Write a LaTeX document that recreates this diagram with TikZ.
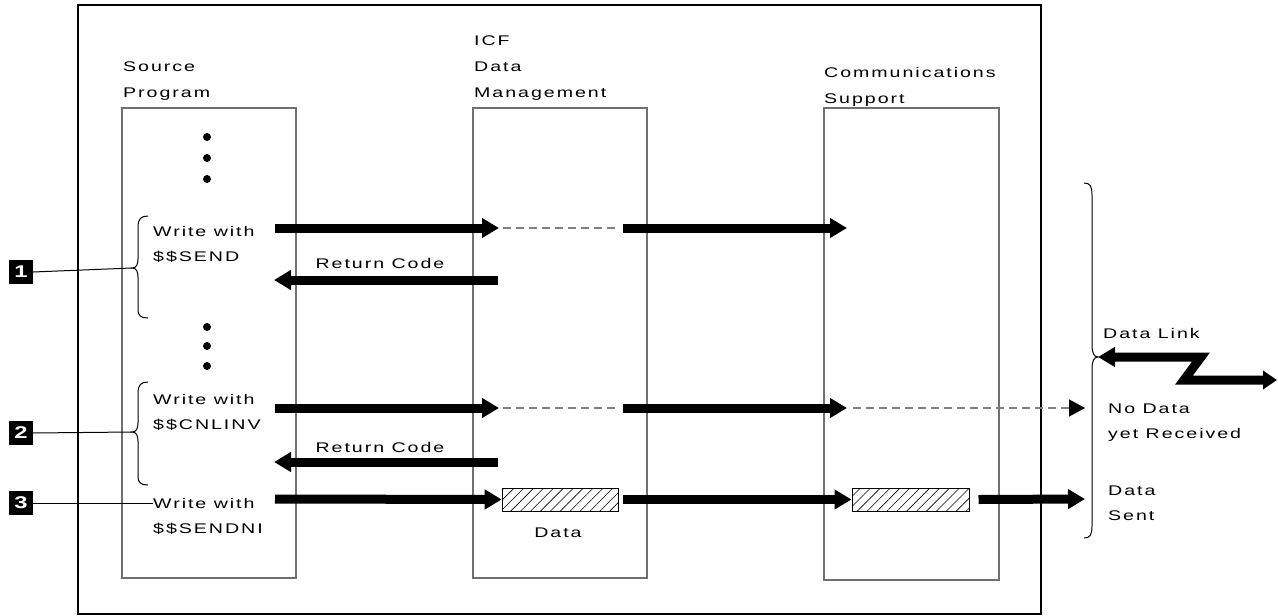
\documentclass[tikz,border=0pt]{standalone}
\usepackage{fontspec}
\setmainfont{Liberation Sans}[FakeStretch=1.4,LetterSpace=14]
\usetikzlibrary{arrows.meta,patterns.meta}
\definecolor{boxgray}{HTML}{707070}
\definecolor{dashgray}{HTML}{808080}
\begin{document}
\begin{tikzpicture}[x=1pt,y=-1pt,
  lbl/.style={inner sep=0pt,anchor=base west,font=\fontsize{14}{16}\selectfont},
  lblc/.style={lbl,anchor=base},
  column/.style={draw=boxgray,line width=1.2pt},
  flow/.style={line width=9pt,-{Triangle[length=17pt,width=19pt]}},
  link/.style={line width=9pt,line join=miter,{Triangle[length=17pt,width=19pt]}-{Triangle[length=14pt,width=18pt]}},
  pending/.style={draw=dashgray,line width=1.3pt,dash pattern=on 8pt off 5pt},
  pendingarrow/.style={pending,-{Triangle[length=16pt,width=17pt,color=black,fill=black]}},
  hatch/.style={draw=black,line width=1pt,pattern={Lines[angle=45,distance=7pt,line width=0.6pt]}},
  tag/.style={fill=black,text=white,inner sep=0pt,minimum size=24pt,font=\bfseries\fontsize{17}{18}\selectfont},
  leader/.style={line width=1pt},
  dot/.style={circle,fill=black,inner sep=0pt,minimum size=8pt},
  curly/.style={line width=1pt}]
\useasboundingbox (0,0) rectangle (1278,616);

% outer frame
\draw[line width=1.4pt] (78,5) rectangle (1041,614);

% the three columns
\draw[column] (122,108) rectangle (296,578);
\draw[column] (473,108) rectangle (647,578);
\draw[column] (824,108) rectangle (999,580);

% column headings
\node[lbl] (hsrc1) at (123,71) {Source};
\node[lbl] (hsrc2) at (123,97) {Program};
\node[lbl] (hicf1) at (474,45) {ICF};
\node[lbl] (hicf2) at (474,71) {Data};
\node[lbl] (hicf3) at (474,97) {Management};
\node[lbl] (hcom1) at (824,77) {Communications};
\node[lbl] (hcom2) at (824,103) {Support};

% ellipsis dots in the program column
\foreach \y [count=\i] in {137,158,179} \node[dot] (da\i) at (207,\y) {};
\foreach \y [count=\i] in {327,346,366} \node[dot] (db\i) at (207,\y) {};

% write requests
\node[lbl] (w1a) at (153,236) {Write with};
\node[lbl] (w1b) at (153,261) {\$\$SEND};
\node[lbl] (w2a) at (153,404) {Write with};
\node[lbl] (w2b) at (153,429) {\$\$CNLINV};
\node[lbl] (w3a) at (153,508) {Write with};
\node[lbl] (w3b) at (153,533) {\$\$SENDNI};

% row 1: $$SEND
\coordinate (r1a) at (275,228);
\coordinate (r1b) at (499,228);
\coordinate (r1c) at (503,228);
\coordinate (r1d) at (617,228);
\coordinate (r1e) at (623,228);
\coordinate (r1f) at (847,228);
\draw[flow] (r1a) -- (r1b);
\draw[pending] (r1c) -- (r1d);
\draw[flow] (r1e) -- (r1f);
\coordinate (rc1a) at (498,280);
\coordinate (rc1b) at (274,280);
\draw[flow] (rc1a) -- (rc1b);
\node[lblc] (rc1) at (380,268) {Return Code};

% row 2: $$CNLINV
\coordinate (r2a) at (275,408);
\coordinate (r2b) at (499,408);
\coordinate (r2c) at (503,408);
\coordinate (r2d) at (617,408);
\coordinate (r2e) at (623,408);
\coordinate (r2f) at (847,408);
\coordinate (r2g) at (853,408);
\coordinate (r2h) at (1085,408);
\draw[flow] (r2a) -- (r2b);
\draw[pending] (r2c) -- (r2d);
\draw[flow] (r2e) -- (r2f);
\draw[pendingarrow] (r2g) -- (r2h);
\coordinate (rc2a) at (498,462);
\coordinate (rc2b) at (274,462);
\draw[flow] (rc2a) -- (rc2b);
\node[lblc] (rc2) at (380,452) {Return Code};

% row 3: $$SENDNI
\node[hatch,minimum width=116pt,minimum height=23pt,inner sep=0pt] (buf1) at (560,499.5) {};
\node[hatch,minimum width=117pt,minimum height=23pt,inner sep=0pt] (buf2) at (910.5,499.5) {};
\node[lblc] (bufl) at (558,537) {Data};
\coordinate (r3a) at (275,499);
\coordinate (r3f) at (1085,499);
\draw[flow] (r3a) -- (buf1.west);
\draw[flow] (buf1.east) ++(5,0) coordinate (r3c) (r3c) -- (buf2.west);
\draw[flow] (buf2.east) ++(9,0) coordinate (r3e) (r3e) -- (r3f);

% left braces and numbered markers
\coordinate (b1) at (132,268);
\draw[curly] (148,216) .. controls (141,216) and (138,219) .. (138,227) -- (138,259)
  .. controls (138,265) and (136,268) .. (b1)
  .. controls (136,268) and (138,271) .. (138,277) -- (138,309)
  .. controls (138,316) and (141,318) .. (148,318);
\coordinate (b2) at (132,432);
\draw[curly] (148,382) .. controls (141,382) and (138,385) .. (138,393) -- (138,423)
  .. controls (138,429) and (136,432) .. (b2)
  .. controls (136,432) and (138,435) .. (138,441) -- (138,476)
  .. controls (138,483) and (141,485) .. (148,485);
\node[tag] (m1) at (21,272) {1};
\node[tag] (m2) at (21,433) {2};
\node[tag] (m3) at (21,503) {3};
\draw[leader] (m1.east) -- (b1);
\draw[leader] (m2.east) -- (b2);
\draw[leader] (m3.east) -- (w3a.west |- m3.east);

% right brace and data link
\coordinate (rb) at (1098,357);
\draw[curly] (1084,183) .. controls (1090,183) and (1092,186) .. (1092,195) -- (1092,345)
  .. controls (1092,353) and (1094,357) .. (rb)
  .. controls (1094,357) and (1092,361) .. (1092,369) -- (1092,526)
  .. controls (1092,535) and (1090,538) .. (1084,538);
\coordinate (dl2) at (1277,380);
\draw[link] (rb) -- (1201,357) -- (1184,380) -- (dl2);
\node[lbl] (dlk) at (1103,338) {Data Link};
\node[lbl] (nd1) at (1108,413) {No Data};
\node[lbl] (nd2) at (1108,438) {yet Received};
\node[lbl] (ds1) at (1108,495) {Data};
\node[lbl] (ds2) at (1108,520) {Sent};
\end{tikzpicture}
\end{document}
